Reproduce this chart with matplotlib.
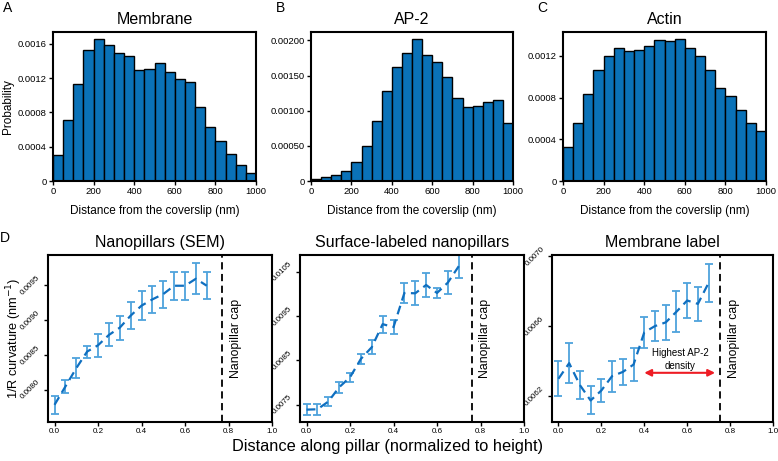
import numpy as np
import matplotlib
matplotlib.use('Agg')
import matplotlib.pyplot as plt

plt.rcParams['font.family'] = ['Liberation Sans', 'DejaVu Sans']

# Histogram data (bins of 50 nm from 0 to 1000 nm)
bin_edges = np.arange(0, 1001, 50)
membrane_hist = [0.000303, 0.000718, 0.001138, 0.001526, 0.001662, 0.001588, 0.001499,
                 0.00146, 0.001297, 0.001305, 0.001375, 0.001278, 0.001192, 0.001153,
                 0.000866, 0.000633, 0.000462, 0.000315, 0.00019, 0.000097]
ap2_hist = [0.000029, 0.000052, 0.000086, 0.000138, 0.000271, 0.000494, 0.000855,
            0.001287, 0.001629, 0.001824, 0.002019, 0.001786, 0.0017, 0.001477,
            0.001178, 0.00105, 0.001064, 0.001126, 0.001154, 0.000827]
actin_hist = [0.000329, 0.000552, 0.000833, 0.001069, 0.0012, 0.00128, 0.001248,
              0.001261, 0.001299, 0.001353, 0.001347, 0.001363, 0.001277, 0.001197,
              0.001063, 0.00089, 0.000811, 0.00068, 0.000555, 0.000479]

# Curvature along pillar
pos = [0.0, 0.05, 0.1, 0.15, 0.2, 0.25, 0.3, 0.35, 0.4, 0.45, 0.5, 0.55, 0.6, 0.65, 0.7]
sem_mean = [0.007786, 0.008048, 0.00831, 0.008548, 0.008638, 0.008786, 0.00889, 0.009062,
            0.009205, 0.009295, 0.009371, 0.00949, 0.00949, 0.00959, 0.00949]
sem_err = [0.000133, 0.000093, 0.00014, 0.000086, 0.000167, 0.000164, 0.000174, 0.000193,
           0.000205, 0.000195, 0.000193, 0.0002, 0.0002, 0.00022, 0.00019]
surf_mean = [0.007387, 0.007395, 0.007568, 0.007892, 0.008118, 0.008532, 0.008796, 0.009316,
             0.00925, 0.01002, 0.010013, 0.0102, 0.01002, 0.010255, 0.010624]
surf_err = [0.000128, 0.000128, 0.000105, 0.00012, 0.0001, 0.00012, 0.00016, 0.00019,
            0.00015, 0.00022, 0.00027, 0.00026, 0.00012, 0.00026, 0.00026]
memb_mean = [0.006299, 0.006388, 0.006263, 0.006175, 0.006232, 0.006314, 0.006338, 0.00638,
             0.006564, 0.0066, 0.006621, 0.006682, 0.006746, 0.006727, 0.006847]
memb_err = [0.000099, 0.000113, 0.000078, 0.00008, 0.000065, 0.000089, 0.000074, 0.000093,
            0.000088, 0.000086, 0.000099, 0.000117, 0.0001, 0.000097, 0.000107]

bar_color = '#0a72b8'
line_color = '#0f6fc0'
err_color = '#4ea3dc'

fig = plt.figure(figsize=(7.78, 4.61), dpi=100)


def style_axes(ax, size):
    for s in ax.spines.values():
        s.set_linewidth(1.5)
    ax.tick_params(direction='out', width=1.0, length=3, labelsize=size, pad=1.5)


# ---- top row: histograms ----
hist_specs = [
    ([53, 256], membrane_hist, 'Membrane', 0.00174, [0, 0.0004, 0.0008, 0.0012, 0.0016],
     ['0', '0.0004', '0.0008', '0.0012', '0.0016'], 'A', 3),
    ([311, 513], ap2_hist, 'AP-2', 0.00212, [0, 0.0005, 0.001, 0.0015, 0.002],
     ['0', '0.00050', '0.00100', '0.00150', '0.00200'], 'B', 276),
    ([563, 766], actin_hist, 'Actin', 0.00143, [0, 0.0004, 0.0008, 0.0012],
     ['0', '0.0004', '0.0008', '0.0012'], 'C', 537),
]
for (xl, xr), vals, title, ytop, yt, ytl, letter, lx in hist_specs:
    ax = fig.add_axes([xl / 778, (461 - 181) / 461, (xr - xl) / 778, 149 / 461])
    ax.bar(bin_edges[:-1], vals, width=50, align='edge', color=bar_color,
           edgecolor='black', linewidth=1.0)
    ax.set_xlim(0, 1000)
    ax.set_ylim(0, ytop)
    ax.set_xticks([0, 200, 400, 600, 800, 1000])
    ax.set_yticks(yt)
    ax.set_yticklabels(ytl)
    ax.set_title(title, fontsize=11.5, pad=6)
    ax.set_xlabel('Distance from the coverslip (nm)', fontsize=8.5, labelpad=6)
    style_axes(ax, 6.8)
    fig.text(lx / 778, 1 - 8 / 461, letter, fontsize=10, va='center', ha='left')
    if letter == 'A':
        ax.set_ylabel('Probability', fontsize=8.5, labelpad=3)

# ---- bottom row: curvature ----
curv_specs = [
    ([48, 272], sem_mean, sem_err, 'Nanopillars (SEM)', (0.00754, 0.00993),
     [0.008, 0.0085, 0.009, 0.0095], 0.77),
    ([300, 524], surf_mean, surf_err, 'Surface-labeled nanopillars', (0.007108, 0.010877),
     [0.0075, 0.0085, 0.0095, 0.0105], 0.76),
    ([552, 773], memb_mean, memb_err, 'Membrane label', (0.006052, 0.007006),
     [0.0062, 0.0066, 0.0070], 0.755),
]
for i, ((xl, xr), mean, err, title, ylim, yt, capx) in enumerate(curv_specs):
    ax = fig.add_axes([xl / 778, (461 - 422) / 461, (xr - xl) / 778, 167 / 461])
    ax.errorbar(pos, mean, yerr=err, fmt='none', ecolor=err_color, elinewidth=1.3,
                capsize=2.8, capthick=1.3)
    ax.plot(pos, mean, linestyle=(0, (4, 2.5)), color=line_color, linewidth=1.6)
    ax.axvline(capx, color='black', linestyle=(0, (4, 2.5)), linewidth=1.3)
    ax.text(capx + 0.035, sum(ylim) / 2, 'Nanopillar cap', rotation=90, fontsize=8.8,
            va='center', ha='left')
    ax.set_xlim(-0.03, 1.0)
    ax.set_ylim(*ylim)
    ax.set_xticks([0, 0.2, 0.4, 0.6, 0.8, 1.0])
    ax.set_xticklabels(['0.0', '0.2', '0.4', '0.6', '0.8', '1.0'])
    ax.set_yticks(yt)
    ax.set_yticklabels(['%.4f' % v for v in yt], rotation=45, va='center', ha='right')
    ax.set_title(title, fontsize=11.5, pad=6)
    style_axes(ax, 5.8)
    if i == 0:
        ax.set_ylabel('1/R curvature (nm$^{-1}$)', fontsize=9.2)
        ax.yaxis.set_label_coords(-0.108, 0.5)
    if i == 2:
        ax.annotate('', xy=(0.4, 0.006333), xytext=(0.73, 0.006333),
                    arrowprops=dict(arrowstyle='<|-|>', color='#ee1c24', lw=1.5,
                                    mutation_scale=10, shrinkA=0, shrinkB=0))
        ax.text(0.567, 0.006407, 'Highest AP-2\ndensity', fontsize=7, ha='center',
                va='center', linespacing=1.4)

fig.text(0, 1 - 238 / 461, 'D', fontsize=10, va='center', ha='left')
fig.text(388 / 778, 1 - 446 / 461, 'Distance along pillar (normalized to height)',
         fontsize=11.8, ha='center', va='center')

fig.savefig('out.png', dpi=100)
